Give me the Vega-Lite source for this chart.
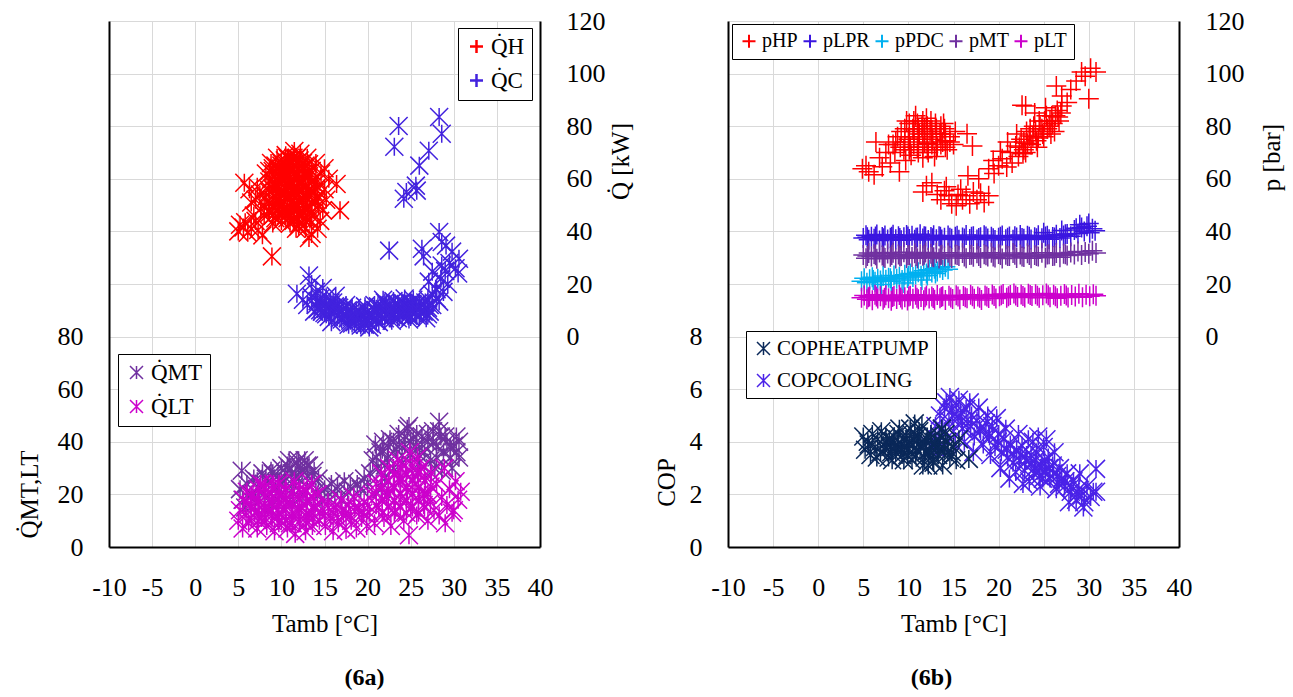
{
"$schema": "https://vega.github.io/schema/vega-lite/v6.json",
"bounds": "flush",
"spacing": 188,
"padding": {"left": 17, "top": 8, "right": 5, "bottom": 5},
"background": "white",
"config": {
  "font": "Liberation Serif",
  "view": {"stroke": null},
  "axis": {"labelFont": "Liberation Serif", "labelFontSize": 26, "labelColor": "#000", "titleFont": "Liberation Serif", "titleFontSize": 25, "titleFontWeight": "normal", "titleColor": "#000", "ticks": false, "domainColor": "#000", "domainWidth": 2, "gridColor": "#d9d9d9", "gridWidth": 1, "labelPadding": 26, "labelFlush": false, "labelOverlap": false},
  "legend": {"labelFont": "Liberation Serif", "labelFontSize": 23, "labelColor": "#000", "strokeColor": "#000", "fillColor": "#fff", "padding": 7, "labelOffset": 3, "rowPadding": 10, "symbolSize": 169, "symbolStrokeWidth": 2, "labelLimit": 300}
},
"datasets": {
"qa": [
{"s":"H","t":5.0,"v":40},{"s":"H","t":5.2,"v":42.5},{"s":"H","t":5.6,"v":41.5},{"s":"H","t":5.8,"v":43.5},{"s":"H","t":6.1,"v":39.5},{"s":"H","t":6.5,"v":41},{"s":"H","t":5.7,"v":58.5},{"s":"H","t":6.3,"v":56},{"s":"H","t":7.0,"v":44},{"s":"H","t":7.3,"v":40.5},{"s":"H","t":7.8,"v":38.5},{"s":"H","t":8.9,"v":30.5},{"s":"H","t":16.4,"v":58},{"s":"H","t":16.8,"v":48},{"s":"H","t":11.5,"v":70.6},{"s":"H","t":12.2,"v":69.5},{"s":"H","t":13.5,"v":39},{"s":"H","t":13.2,"v":37.5},{"s":"H","t":12.8,"v":41},{"s":"H","t":14.5,"v":44},{"s":"H","t":15.2,"v":52},{"s":"H","t":15.5,"v":60},{"s":"H","t":15,"v":64},{"s":"H","t":8.0,"v":50},{"s":"H","t":7.5,"v":54},{"s":"H","t":7.2,"v":57},{"s":"H","t":8.2,"v":62},{"s":"H","t":8.8,"v":66},{"s":"H","t":9.5,"v":68},{"s":"H","t":10.5,"v":69},{"s":"H","t":11,"v":67},{"s":"H","t":13,"v":68},{"s":"H","t":14,"v":66},{"s":"H","t":14.6,"v":62},{"s":"H","t":15,"v":56},{"s":"H","t":14.8,"v":48},{"s":"H","t":14.2,"v":41},{"s":"H","t":12,"v":42},{"s":"H","t":11,"v":43},{"s":"H","t":10,"v":44},{"s":"H","t":9,"v":46},{"s":"H","t":8.5,"v":48},
{"s":"H","t":9,"v":52},{"s":"H","t":9.5,"v":55},{"s":"H","t":10,"v":58},{"s":"H","t":10.5,"v":61},{"s":"H","t":11,"v":64},{"s":"H","t":11.5,"v":62},{"s":"H","t":12,"v":60},{"s":"H","t":12.5,"v":57},{"s":"H","t":13,"v":54},{"s":"H","t":13.5,"v":51},{"s":"H","t":13,"v":48},{"s":"H","t":12.5,"v":45},{"s":"H","t":12,"v":47},{"s":"H","t":11.5,"v":50},{"s":"H","t":11,"v":53},{"s":"H","t":10.5,"v":56},{"s":"H","t":10,"v":60},{"s":"H","t":9.5,"v":62},{"s":"H","t":9,"v":64},{"s":"H","t":10,"v":65},{"s":"H","t":11,"v":59},{"s":"H","t":12,"v":64},{"s":"H","t":12.5,"v":66},{"s":"H","t":13,"v":62},{"s":"H","t":13.5,"v":59},{"s":"H","t":14,"v":56},{"s":"H","t":14,"v":52},{"s":"H","t":13.5,"v":46},{"s":"H","t":12,"v":52},{"s":"H","t":11,"v":48},{"s":"H","t":10,"v":50},{"s":"H","t":9.5,"v":48},{"s":"H","t":10.5,"v":46},{"s":"H","t":11.5,"v":45},{"s":"H","t":12.5,"v":50},{"s":"H","t":13.5,"v":63},{"s":"H","t":14,"v":60},{"s":"H","t":11.8,"v":55},{"s":"H","t":12.3,"v":58},{"s":"H","t":10.8,"v":57.5},{"s":"H","t":9.8,"v":53},{"s":"H","t":9.2,"v":58},{"s":"H","t":8.5,"v":56},{"s":"H","t":8.2,"v":53},{"s":"H","t":8.8,"v":60},{"s":"H","t":10.2,"v":63},{"s":"H","t":11.3,"v":66},{"s":"H","t":12.7,"v":64},{"s":"H","t":13.8,"v":55},{"s":"H","t":12.9,"v":43.5},{"s":"H","t":11.7,"v":41},{"s":"H","t":13.3,"v":44.5},{"s":"H","t":14.3,"v":50},{"s":"H","t":12.6,"v":53.5},{"s":"H","t":11.2,"v":51.5},{"s":"H","t":10.3,"v":54},{"s":"H","t":9.7,"v":50.5},{"s":"H","t":9,"v":43},{"s":"H","t":8,"v":46},{"s":"H","t":7.6,"v":48.5},{"s":"H","t":6.8,"v":46},{"s":"H","t":6.5,"v":51},{"s":"H","t":7,"v":52},{"s":"H","t":11.8,"v":68},{"s":"H","t":10.8,"v":67.5},{"s":"H","t":12.5,"v":62},{"s":"H","t":13.2,"v":65.5},
{"s":"H","t":8.6,"v":47},{"s":"H","t":8.6,"v":51},{"s":"H","t":8.6,"v":55},{"s":"H","t":8.6,"v":59},{"s":"H","t":8.6,"v":63},{"s":"H","t":9.3,"v":45},{"s":"H","t":9.3,"v":49},{"s":"H","t":9.3,"v":53},{"s":"H","t":9.3,"v":57},{"s":"H","t":9.3,"v":61},{"s":"H","t":9.3,"v":65},{"s":"H","t":10.0,"v":46},{"s":"H","t":10.0,"v":50},{"s":"H","t":10.0,"v":54},{"s":"H","t":10.0,"v":58},{"s":"H","t":10.0,"v":62},{"s":"H","t":10.0,"v":66},{"s":"H","t":10.7,"v":45},{"s":"H","t":10.7,"v":49},{"s":"H","t":10.7,"v":53},{"s":"H","t":10.7,"v":57},{"s":"H","t":10.7,"v":61},{"s":"H","t":10.7,"v":65},{"s":"H","t":10.7,"v":68},{"s":"H","t":11.4,"v":44},{"s":"H","t":11.4,"v":48},{"s":"H","t":11.4,"v":52},{"s":"H","t":11.4,"v":56},{"s":"H","t":11.4,"v":60},{"s":"H","t":11.4,"v":64},{"s":"H","t":11.4,"v":68},{"s":"H","t":12.1,"v":43},{"s":"H","t":12.1,"v":47},{"s":"H","t":12.1,"v":51},{"s":"H","t":12.1,"v":55},{"s":"H","t":12.1,"v":59},{"s":"H","t":12.1,"v":63},{"s":"H","t":12.1,"v":67},{"s":"H","t":12.8,"v":45},{"s":"H","t":12.8,"v":49},{"s":"H","t":12.8,"v":53},{"s":"H","t":12.8,"v":57},{"s":"H","t":12.8,"v":61},{"s":"H","t":12.8,"v":65},{"s":"H","t":13.5,"v":47},{"s":"H","t":13.5,"v":51},{"s":"H","t":13.5,"v":55},{"s":"H","t":13.5,"v":59},{"s":"H","t":13.5,"v":63},{"s":"H","t":14.2,"v":53},{"s":"H","t":14.2,"v":57},
{"s":"H","t":9.0,"v":49},{"s":"H","t":9.0,"v":56},{"s":"H","t":9.0,"v":63},{"s":"H","t":9.7,"v":47},{"s":"H","t":9.7,"v":52},{"s":"H","t":9.7,"v":59},{"s":"H","t":9.7,"v":64},{"s":"H","t":10.4,"v":48},{"s":"H","t":10.4,"v":55},{"s":"H","t":10.4,"v":61},{"s":"H","t":10.4,"v":67},{"s":"H","t":11.1,"v":46},{"s":"H","t":11.1,"v":51},{"s":"H","t":11.1,"v":58},{"s":"H","t":11.1,"v":63},{"s":"H","t":11.1,"v":67},{"s":"H","t":11.8,"v":45},{"s":"H","t":11.8,"v":50},{"s":"H","t":11.8,"v":57},{"s":"H","t":11.8,"v":62},{"s":"H","t":11.8,"v":66},{"s":"H","t":12.5,"v":47},{"s":"H","t":12.5,"v":52},{"s":"H","t":12.5,"v":59},{"s":"H","t":12.5,"v":64},{"s":"H","t":13.2,"v":49},{"s":"H","t":13.2,"v":56},{"s":"H","t":13.2,"v":61},{"s":"H","t":13.9,"v":51},{"s":"H","t":13.9,"v":58},
{"s":"C","t":11.8,"v":16.3},{"s":"C","t":13.2,"v":23.2},{"s":"C","t":13.5,"v":20},{"s":"C","t":12.5,"v":14},{"s":"C","t":13,"v":12},{"s":"C","t":13.5,"v":15},{"s":"C","t":14,"v":17},{"s":"C","t":14,"v":12},{"s":"C","t":14.5,"v":10},{"s":"C","t":14.5,"v":14.5},{"s":"C","t":15,"v":12},{"s":"C","t":15,"v":9},{"s":"C","t":15.5,"v":11},{"s":"C","t":15.5,"v":7.5},{"s":"C","t":16,"v":10},{"s":"C","t":16,"v":13},{"s":"C","t":16.5,"v":8},{"s":"C","t":16.5,"v":11.5},{"s":"C","t":17,"v":6.5},{"s":"C","t":17,"v":9.5},{"s":"C","t":17.5,"v":8},{"s":"C","t":17.5,"v":12},{"s":"C","t":18,"v":6},{"s":"C","t":18,"v":9},{"s":"C","t":18.5,"v":5.5},{"s":"C","t":18.5,"v":8.5},{"s":"C","t":19,"v":7},{"s":"C","t":19,"v":10},{"s":"C","t":19.5,"v":5},{"s":"C","t":19.5,"v":8},{"s":"C","t":20,"v":6},{"s":"C","t":20,"v":9.5},{"s":"C","t":20.5,"v":4.5},{"s":"C","t":20.5,"v":7.5},{"s":"C","t":21,"v":6},{"s":"C","t":21,"v":10},{"s":"C","t":21.5,"v":8},{"s":"C","t":21.5,"v":11},{"s":"C","t":22,"v":7},{"s":"C","t":22,"v":10.5},{"s":"C","t":22,"v":13},{"s":"C","t":22.5,"v":9},{"s":"C","t":22.5,"v":12},{"s":"C","t":23,"v":8},{"s":"C","t":23,"v":11},{"s":"C","t":23,"v":13.5},{"s":"C","t":23.5,"v":7},{"s":"C","t":23.5,"v":10},{"s":"C","t":23.5,"v":12.5},{"s":"C","t":24,"v":8.5},{"s":"C","t":24,"v":11},{"s":"C","t":24,"v":13},{"s":"C","t":24.5,"v":9},{"s":"C","t":24.5,"v":12},{"s":"C","t":25,"v":7.5},{"s":"C","t":25,"v":10},{"s":"C","t":25,"v":12.5},{"s":"C","t":25.5,"v":9},{"s":"C","t":25.5,"v":11.5},{"s":"C","t":26,"v":8},{"s":"C","t":26,"v":10.5},{"s":"C","t":26,"v":13},{"s":"C","t":26.5,"v":9.5},{"s":"C","t":26.5,"v":12},{"s":"C","t":27,"v":8.5},{"s":"C","t":27,"v":11},{"s":"C","t":27,"v":14},{"s":"C","t":27.5,"v":16},{"s":"C","t":27.5,"v":12},{"s":"C","t":28,"v":18},{"s":"C","t":28,"v":14.5},{"s":"C","t":28.3,"v":13.3},{"s":"C","t":27.9,"v":18.2},{"s":"C","t":27.1,"v":20.9},{"s":"C","t":28.5,"v":22},{"s":"C","t":28.6,"v":27},{"s":"C","t":29,"v":25},{"s":"C","t":29.3,"v":20},{"s":"C","t":29.5,"v":28},{"s":"C","t":29.8,"v":32.3},{"s":"C","t":30.2,"v":26},{"s":"C","t":30.6,"v":29.6},{"s":"C","t":30.5,"v":24},{"s":"C","t":29.1,"v":34.6},{"s":"C","t":28.3,"v":39.8},{"s":"C","t":28.6,"v":36},{"s":"C","t":27.5,"v":24.7},{"s":"C","t":28.8,"v":17},{"s":"C","t":26.3,"v":33.4},{"s":"C","t":26.5,"v":30.5},{"s":"C","t":22.5,"v":32.7},
{"s":"C","t":23.6,"v":80.1},{"s":"C","t":23.1,"v":72.2},{"s":"C","t":28.3,"v":83.5},{"s":"C","t":28.6,"v":77.1},{"s":"C","t":27.1,"v":70.7},{"s":"C","t":26,"v":65},{"s":"C","t":25.6,"v":57.4},{"s":"C","t":24.5,"v":55},{"s":"C","t":24.2,"v":52.4},{"s":"C","t":25.7,"v":55.5},
{"s":"C","t":15.2,"v":15},{"s":"C","t":16.8,"v":7},{"s":"C","t":18.2,"v":11},{"s":"C","t":19.7,"v":11.5},{"s":"C","t":20.8,"v":12},{"s":"C","t":21.3,"v":5.5},{"s":"C","t":17.8,"v":4.5},{"s":"C","t":19.2,"v":4.2},{"s":"C","t":20.2,"v":3.5},{"s":"C","t":22.8,"v":6},{"s":"C","t":24.8,"v":6.5},{"s":"C","t":26.8,"v":7},{"s":"C","t":25.3,"v":14},{"s":"C","t":24.3,"v":14.5},{"s":"C","t":21.8,"v":14},{"s":"C","t":14.8,"v":18.5},{"s":"C","t":13.8,"v":9.5},{"s":"C","t":15.8,"v":5.5},{"s":"C","t":16.3,"v":15.5},
{"s":"C","t":14.2,"v":13.5},{"s":"C","t":14.2,"v":10.5},{"s":"C","t":14.7,"v":12.5},{"s":"C","t":14.7,"v":9.5},{"s":"C","t":15.2,"v":11},{"s":"C","t":15.2,"v":8.5},{"s":"C","t":15.7,"v":10.5},{"s":"C","t":15.7,"v":13},{"s":"C","t":16.2,"v":9},{"s":"C","t":16.2,"v":11.5},{"s":"C","t":16.7,"v":8.5},{"s":"C","t":16.7,"v":11},{"s":"C","t":17.2,"v":8},{"s":"C","t":17.2,"v":10.5},{"s":"C","t":17.7,"v":7},{"s":"C","t":17.7,"v":10},{"s":"C","t":18.2,"v":7.5},{"s":"C","t":18.2,"v":5},{"s":"C","t":18.7,"v":7},{"s":"C","t":18.7,"v":9.5},{"s":"C","t":19.2,"v":6.5},{"s":"C","t":19.2,"v":9},{"s":"C","t":19.7,"v":7},{"s":"C","t":19.7,"v":4.5},{"s":"C","t":20.2,"v":7.5},{"s":"C","t":20.2,"v":5},{"s":"C","t":20.7,"v":8},{"s":"C","t":20.7,"v":10.5},{"s":"C","t":21.2,"v":8.5},{"s":"C","t":21.2,"v":11.5},{"s":"C","t":21.7,"v":9.5},{"s":"C","t":21.7,"v":7},{"s":"C","t":22.2,"v":9},{"s":"C","t":22.2,"v":12},{"s":"C","t":22.7,"v":10},{"s":"C","t":22.7,"v":7.5},{"s":"C","t":23.2,"v":9.5},{"s":"C","t":23.2,"v":12.5},{"s":"C","t":23.7,"v":11},{"s":"C","t":23.7,"v":8.5},{"s":"C","t":24.2,"v":10},{"s":"C","t":24.2,"v":12.5},{"s":"C","t":24.7,"v":10.5},{"s":"C","t":24.7,"v":8},{"s":"C","t":25.2,"v":10},{"s":"C","t":25.2,"v":12.5},{"s":"C","t":25.7,"v":10.5},{"s":"C","t":25.7,"v":8},{"s":"C","t":26.2,"v":11},{"s":"C","t":26.2,"v":9},{"s":"C","t":26.7,"v":11},{"s":"C","t":26.7,"v":13},{"s":"C","t":27.2,"v":12},{"s":"C","t":27.2,"v":9.5}
],
"qb": [
{"s":"MT","t":5.4,"v":29},{"s":"MT","t":5.2,"v":22},{"s":"MT","t":5.5,"v":18},{"s":"MT","t":5.8,"v":15},{"s":"MT","t":6,"v":24},{"s":"MT","t":6.5,"v":20},{"s":"MT","t":6.8,"v":26},{"s":"MT","t":7,"v":17},{"s":"MT","t":7.5,"v":22},{"s":"MT","t":7.8,"v":28},{"s":"MT","t":8,"v":19},{"s":"MT","t":8.5,"v":25},{"s":"MT","t":8.8,"v":29},{"s":"MT","t":9,"v":16},{"s":"MT","t":9.3,"v":22},{"s":"MT","t":9.6,"v":27},{"s":"MT","t":10,"v":30},{"s":"MT","t":10,"v":20},{"s":"MT","t":10.4,"v":25},{"s":"MT","t":10.7,"v":31},{"s":"MT","t":11,"v":18},{"s":"MT","t":11.2,"v":28},{"s":"MT","t":11.5,"v":23},{"s":"MT","t":11.8,"v":32},{"s":"MT","t":12,"v":26},{"s":"MT","t":12.2,"v":30},{"s":"MT","t":12.5,"v":20},{"s":"MT","t":12.7,"v":33},{"s":"MT","t":13,"v":27},{"s":"MT","t":13.2,"v":31},{"s":"MT","t":13.5,"v":24},{"s":"MT","t":13.8,"v":29},{"s":"MT","t":14,"v":21},{"s":"MT","t":14.3,"v":26},{"s":"MT","t":14.6,"v":18},
{"s":"MT","t":15,"v":22},{"s":"MT","t":15.4,"v":19},{"s":"MT","t":15.8,"v":24},{"s":"MT","t":16.2,"v":20},{"s":"MT","t":16.5,"v":23},{"s":"MT","t":17,"v":18},{"s":"MT","t":17.3,"v":25},{"s":"MT","t":17.7,"v":21},{"s":"MT","t":18,"v":23},{"s":"MT","t":18.4,"v":19},{"s":"MT","t":18.8,"v":24},{"s":"MT","t":19.2,"v":22},{"s":"MT","t":19.6,"v":26},{"s":"MT","t":20,"v":23},
{"s":"MT","t":20.3,"v":28},{"s":"MT","t":20.6,"v":33},{"s":"MT","t":20.9,"v":39},{"s":"MT","t":21.2,"v":30},{"s":"MT","t":21.5,"v":36},{"s":"MT","t":21.8,"v":40},{"s":"MT","t":22,"v":26},{"s":"MT","t":22.3,"v":34},{"s":"MT","t":22.6,"v":41},{"s":"MT","t":23,"v":30},{"s":"MT","t":23.3,"v":37},{"s":"MT","t":23.6,"v":43},{"s":"MT","t":24,"v":32},{"s":"MT","t":24.3,"v":39},{"s":"MT","t":24.6,"v":45},{"s":"MT","t":24.8,"v":46},{"s":"MT","t":25,"v":35},{"s":"MT","t":25.3,"v":41},{"s":"MT","t":25.6,"v":38},{"s":"MT","t":26,"v":32},{"s":"MT","t":26.3,"v":42},{"s":"MT","t":26.6,"v":36},{"s":"MT","t":27,"v":40},{"s":"MT","t":27.3,"v":33},{"s":"MT","t":27.6,"v":44},{"s":"MT","t":28,"v":38},{"s":"MT","t":28.3,"v":47.6},{"s":"MT","t":28.5,"v":42},{"s":"MT","t":28.8,"v":36},{"s":"MT","t":29.2,"v":40},{"s":"MT","t":29.6,"v":34},{"s":"MT","t":30,"v":38.5},{"s":"MT","t":30.3,"v":36},{"s":"MT","t":30.6,"v":40},{"s":"MT","t":29.8,"v":30},{"s":"MT","t":28.6,"v":29},{"s":"MT","t":27.8,"v":30},{"s":"MT","t":25.8,"v":28},{"s":"MT","t":23.8,"v":25},{"s":"MT","t":21.6,"v":22},
{"s":"MT","t":8.2,"v":26},{"s":"MT","t":9,"v":28},{"s":"MT","t":9.8,"v":25},{"s":"MT","t":10.5,"v":28},{"s":"MT","t":11,"v":30},{"s":"MT","t":11.6,"v":27},{"s":"MT","t":12.4,"v":29},{"s":"MT","t":13,"v":31},{"s":"MT","t":13.6,"v":27},{"s":"MT","t":12,"v":33},{"s":"MT","t":10.9,"v":33},{"s":"MT","t":7.2,"v":25},{"s":"MT","t":21,"v":34},{"s":"MT","t":21.7,"v":37},{"s":"MT","t":22.4,"v":38},{"s":"MT","t":23,"v":40},{"s":"MT","t":23.7,"v":39},{"s":"MT","t":24.3,"v":42},{"s":"MT","t":25,"v":40},{"s":"MT","t":25.7,"v":43},{"s":"MT","t":26.3,"v":39},{"s":"MT","t":27,"v":43},{"s":"MT","t":27.6,"v":40},{"s":"MT","t":28.3,"v":44},{"s":"MT","t":29,"v":42},{"s":"MT","t":29.6,"v":38},{"s":"MT","t":30.3,"v":42},{"s":"MT","t":22,"v":31},{"s":"MT","t":24,"v":35},{"s":"MT","t":26,"v":35},{"s":"MT","t":28,"v":34},{"s":"MT","t":30.6,"v":34},
{"s":"LT","t":5,"v":10},{"s":"LT","t":5.2,"v":14},{"s":"LT","t":5.5,"v":7},{"s":"LT","t":5.6,"v":18},{"s":"LT","t":5.9,"v":12},{"s":"LT","t":6.2,"v":9},{"s":"LT","t":6.4,"v":16},{"s":"LT","t":6.7,"v":20},{"s":"LT","t":6.9,"v":13},{"s":"LT","t":7.2,"v":7},{"s":"LT","t":7.4,"v":17},{"s":"LT","t":7.7,"v":11},{"s":"LT","t":8,"v":22},{"s":"LT","t":8,"v":14},{"s":"LT","t":8.3,"v":8},{"s":"LT","t":8.6,"v":18},{"s":"LT","t":8.9,"v":12},{"s":"LT","t":9.1,"v":24},{"s":"LT","t":9.2,"v":6},{"s":"LT","t":9.5,"v":16},{"s":"LT","t":9.8,"v":20},{"s":"LT","t":10,"v":10},{"s":"LT","t":10.2,"v":14},{"s":"LT","t":10.5,"v":22},{"s":"LT","t":10.7,"v":7},{"s":"LT","t":11,"v":17},{"s":"LT","t":11.2,"v":12},{"s":"LT","t":11.5,"v":25},{"s":"LT","t":11.6,"v":5},{"s":"LT","t":11.9,"v":19},{"s":"LT","t":12.1,"v":9},{"s":"LT","t":12.3,"v":15},{"s":"LT","t":12.6,"v":22},{"s":"LT","t":12.8,"v":6},{"s":"LT","t":13,"v":18},{"s":"LT","t":13.2,"v":11},{"s":"LT","t":13.5,"v":24},{"s":"LT","t":13.6,"v":8},{"s":"LT","t":13.9,"v":15},{"s":"LT","t":14.2,"v":20},{"s":"LT","t":14.4,"v":10},{"s":"LT","t":7.6,"v":24},{"s":"LT","t":6,"v":21},{"s":"LT","t":10.3,"v":18},{"s":"LT","t":12,"v":13},{"s":"LT","t":11,"v":9},{"s":"LT","t":9.5,"v":11},{"s":"LT","t":8.5,"v":15},{"s":"LT","t":13.5,"v":13},
{"s":"LT","t":14.8,"v":14},{"s":"LT","t":15.1,"v":8},{"s":"LT","t":15.4,"v":17},{"s":"LT","t":15.7,"v":11},{"s":"LT","t":16,"v":6},{"s":"LT","t":16.3,"v":15},{"s":"LT","t":16.6,"v":9},{"s":"LT","t":16.9,"v":18},{"s":"LT","t":17.2,"v":12},{"s":"LT","t":17.5,"v":6.5},{"s":"LT","t":17.8,"v":16},{"s":"LT","t":18.1,"v":10},{"s":"LT","t":18.4,"v":19},{"s":"LT","t":18.7,"v":7},{"s":"LT","t":19,"v":14},{"s":"LT","t":19.3,"v":11},{"s":"LT","t":19.6,"v":17},{"s":"LT","t":19.9,"v":8},
{"s":"LT","t":20.2,"v":13},{"s":"LT","t":20.5,"v":20},{"s":"LT","t":20.8,"v":9},{"s":"LT","t":21,"v":24},{"s":"LT","t":21.3,"v":15},{"s":"LT","t":21.6,"v":28},{"s":"LT","t":21.9,"v":11},{"s":"LT","t":22.2,"v":19},{"s":"LT","t":22.5,"v":30},{"s":"LT","t":22.7,"v":8},{"s":"LT","t":23,"v":23},{"s":"LT","t":23.2,"v":14},{"s":"LT","t":23.5,"v":33},{"s":"LT","t":23.8,"v":18},{"s":"LT","t":24,"v":26},{"s":"LT","t":24.2,"v":10},{"s":"LT","t":24.4,"v":31},{"s":"LT","t":24.6,"v":21},{"s":"LT","t":24.8,"v":4.5},{"s":"LT","t":25,"v":15},{"s":"LT","t":25.2,"v":28},{"s":"LT","t":25.5,"v":24},{"s":"LT","t":25.7,"v":12},{"s":"LT","t":26,"v":20},{"s":"LT","t":26.2,"v":30},{"s":"LT","t":26.5,"v":16},{"s":"LT","t":26.7,"v":25},{"s":"LT","t":27,"v":10},{"s":"LT","t":27,"v":20},{"s":"LT","t":27.4,"v":28},{"s":"LT","t":27.7,"v":14},{"s":"LT","t":28,"v":24},{"s":"LT","t":28.3,"v":12},{"s":"LT","t":28.6,"v":19},{"s":"LT","t":28.9,"v":30},{"s":"LT","t":29.2,"v":16},{"s":"LT","t":29.5,"v":22},{"s":"LT","t":29.8,"v":13},{"s":"LT","t":30.2,"v":25},{"s":"LT","t":30.5,"v":18},{"s":"LT","t":30.8,"v":21},{"s":"LT","t":29,"v":9},{"s":"LT","t":30,"v":14},{"s":"LT","t":23.6,"v":26},{"s":"LT","t":22.4,"v":22},{"s":"LT","t":25.8,"v":34},{"s":"LT","t":24.9,"v":36},
{"s":"LT","t":6.5,"v":11},{"s":"LT","t":6.5,"v":15},{"s":"LT","t":6.5,"v":19},{"s":"LT","t":7.3,"v":10},{"s":"LT","t":7.3,"v":14},{"s":"LT","t":7.3,"v":18},{"s":"LT","t":7.3,"v":22},{"s":"LT","t":8.1,"v":11},{"s":"LT","t":8.1,"v":15},{"s":"LT","t":8.1,"v":19},{"s":"LT","t":8.1,"v":23},{"s":"LT","t":8.9,"v":10},{"s":"LT","t":8.9,"v":14},{"s":"LT","t":8.9,"v":18},{"s":"LT","t":8.9,"v":22},{"s":"LT","t":9.7,"v":9},{"s":"LT","t":9.7,"v":13},{"s":"LT","t":9.7,"v":17},{"s":"LT","t":9.7,"v":21},{"s":"LT","t":9.7,"v":24},{"s":"LT","t":10.5,"v":10},{"s":"LT","t":10.5,"v":14},{"s":"LT","t":10.5,"v":18},{"s":"LT","t":10.5,"v":22},{"s":"LT","t":11.3,"v":9},{"s":"LT","t":11.3,"v":13},{"s":"LT","t":11.3,"v":17},{"s":"LT","t":11.3,"v":21},{"s":"LT","t":12.1,"v":10},{"s":"LT","t":12.1,"v":14},{"s":"LT","t":12.1,"v":18},{"s":"LT","t":12.1,"v":22},{"s":"LT","t":12.9,"v":9},{"s":"LT","t":12.9,"v":13},{"s":"LT","t":12.9,"v":17},{"s":"LT","t":12.9,"v":21},{"s":"LT","t":13.7,"v":11},{"s":"LT","t":13.7,"v":15},{"s":"LT","t":13.7,"v":19},
{"s":"LT","t":15,"v":12},{"s":"LT","t":16,"v":13},{"s":"LT","t":17,"v":14},{"s":"LT","t":18,"v":12},{"s":"LT","t":19,"v":15},{"s":"LT","t":20,"v":16},{"s":"LT","t":15.5,"v":15},{"s":"LT","t":16.5,"v":11},{"s":"LT","t":17.5,"v":13},{"s":"LT","t":18.5,"v":15},{"s":"LT","t":19.5,"v":13},
{"s":"LT","t":21,"v":16},{"s":"LT","t":21,"v":21},{"s":"LT","t":21.7,"v":13},{"s":"LT","t":21.7,"v":18},{"s":"LT","t":21.7,"v":23},{"s":"LT","t":22.4,"v":15},{"s":"LT","t":22.4,"v":20},{"s":"LT","t":22.4,"v":25},{"s":"LT","t":23.1,"v":13},{"s":"LT","t":23.1,"v":18},{"s":"LT","t":23.1,"v":23},{"s":"LT","t":23.1,"v":28},{"s":"LT","t":23.8,"v":15},{"s":"LT","t":23.8,"v":20},{"s":"LT","t":23.8,"v":25},{"s":"LT","t":23.8,"v":30},{"s":"LT","t":24.5,"v":13},{"s":"LT","t":24.5,"v":18},{"s":"LT","t":24.5,"v":23},{"s":"LT","t":24.5,"v":28},{"s":"LT","t":25.2,"v":15},{"s":"LT","t":25.2,"v":20},{"s":"LT","t":25.2,"v":25},{"s":"LT","t":25.2,"v":31},{"s":"LT","t":25.9,"v":13},{"s":"LT","t":25.9,"v":18},{"s":"LT","t":25.9,"v":23},{"s":"LT","t":25.9,"v":28},{"s":"LT","t":26.6,"v":15},{"s":"LT","t":26.6,"v":20},{"s":"LT","t":26.6,"v":27},{"s":"LT","t":27.3,"v":17},{"s":"LT","t":27.3,"v":23}
],
"pb": [
{"s":"HP","t":4.9,"v":63.8},{"s":"HP","t":5.6,"v":62.7},{"s":"HP","t":5.3,"v":65},{"s":"HP","t":6.2,"v":61.5},{"s":"HP","t":7.1,"v":64.6},{"s":"HP","t":6.4,"v":74},{"s":"HP","t":6.8,"v":68},{"s":"HP","t":7.5,"v":70},{"s":"HP","t":8,"v":66},{"s":"HP","t":8.3,"v":73},{"s":"HP","t":9,"v":62.7},{"s":"HP","t":8.8,"v":76},{"s":"HP","t":9.2,"v":78},{"s":"HP","t":9.5,"v":71},{"s":"HP","t":9.8,"v":82},{"s":"HP","t":10,"v":75},{"s":"HP","t":10.3,"v":69},{"s":"HP","t":10.5,"v":79},{"s":"HP","t":10.8,"v":84},{"s":"HP","t":11,"v":72},{"s":"HP","t":11.2,"v":77},{"s":"HP","t":11.5,"v":80},{"s":"HP","t":11.8,"v":74},{"s":"HP","t":12,"v":83},{"s":"HP","t":12.2,"v":70},{"s":"HP","t":12.4,"v":78},{"s":"HP","t":12.7,"v":75},{"s":"HP","t":13,"v":81},{"s":"HP","t":13.2,"v":72},{"s":"HP","t":13.5,"v":77},{"s":"HP","t":13.8,"v":74},{"s":"HP","t":14,"v":79},{"s":"HP","t":14.3,"v":71},{"s":"HP","t":14.6,"v":76},{"s":"HP","t":15,"v":73},{"s":"HP","t":15.2,"v":78},{"s":"HP","t":16.5,"v":77.1},{"s":"HP","t":17.1,"v":72.5},{"s":"HP","t":10.2,"v":72},{"s":"HP","t":11.6,"v":68},{"s":"HP","t":12.9,"v":68.5},{"s":"HP","t":9.7,"v":67},{"s":"HP","t":8.5,"v":70},{"s":"HP","t":7.8,"v":73},{"s":"HP","t":11,"v":81},{"s":"HP","t":12.5,"v":82},{"s":"HP","t":13.6,"v":80},{"s":"HP","t":10.6,"v":76},{"s":"HP","t":11.8,"v":79},{"s":"HP","t":12.1,"v":73.5},{"s":"HP","t":14.1,"v":74.5},
{"s":"HP","t":9.6,"v":74},{"s":"HP","t":9.6,"v":79},{"s":"HP","t":10.1,"v":71},{"s":"HP","t":10.1,"v":76},{"s":"HP","t":10.1,"v":81},{"s":"HP","t":10.6,"v":73},{"s":"HP","t":10.6,"v":78},{"s":"HP","t":10.6,"v":82},{"s":"HP","t":11.1,"v":70},{"s":"HP","t":11.1,"v":75},{"s":"HP","t":11.1,"v":79},{"s":"HP","t":11.6,"v":72},{"s":"HP","t":11.6,"v":77},{"s":"HP","t":11.6,"v":82},{"s":"HP","t":12.1,"v":71},{"s":"HP","t":12.1,"v":76},{"s":"HP","t":12.1,"v":80},{"s":"HP","t":12.6,"v":73},{"s":"HP","t":12.6,"v":78},{"s":"HP","t":13.1,"v":71},{"s":"HP","t":13.1,"v":76},{"s":"HP","t":13.1,"v":79},{"s":"HP","t":13.6,"v":73},{"s":"HP","t":13.6,"v":77},{"s":"HP","t":14.1,"v":72},{"s":"HP","t":14.1,"v":77},{"s":"HP","t":14.6,"v":74},{"s":"HP","t":9.1,"v":72},{"s":"HP","t":8.6,"v":74},{"s":"HP","t":13.9,"v":81},
{"s":"HP","t":12,"v":57.4},{"s":"HP","t":11.6,"v":55},{"s":"HP","t":12.6,"v":58.5},{"s":"HP","t":13.2,"v":54},{"s":"HP","t":13.6,"v":52},{"s":"HP","t":14,"v":55.5},{"s":"HP","t":14.5,"v":53.6},{"s":"HP","t":14.8,"v":50.5},{"s":"HP","t":15.3,"v":49.8},{"s":"HP","t":15.5,"v":54},{"s":"HP","t":16,"v":52},{"s":"HP","t":16.4,"v":53.6},{"s":"HP","t":16.8,"v":50.5},{"s":"HP","t":17.2,"v":55},{"s":"HP","t":17.6,"v":52},{"s":"HP","t":18,"v":54.5},{"s":"HP","t":18.4,"v":51},{"s":"HP","t":18.9,"v":53.6},{"s":"HP","t":14.2,"v":57},{"s":"HP","t":15.8,"v":56},
{"s":"HP","t":16.6,"v":61.2},{"s":"HP","t":17.8,"v":60},{"s":"HP","t":18.9,"v":63.8},{"s":"HP","t":19.5,"v":62},{"s":"HP","t":20,"v":65},{"s":"HP","t":20.4,"v":67.6},{"s":"HP","t":20.9,"v":64.5},{"s":"HP","t":21.3,"v":70},{"s":"HP","t":21.5,"v":66},{"s":"HP","t":21.9,"v":72.5},{"s":"HP","t":22.2,"v":68.5},{"s":"HP","t":22.5,"v":75},{"s":"HP","t":22.8,"v":71},{"s":"HP","t":23.1,"v":78},{"s":"HP","t":23.4,"v":76.3},{"s":"HP","t":23.6,"v":73},{"s":"HP","t":23.9,"v":80},{"s":"HP","t":24.2,"v":74.5},{"s":"HP","t":24.5,"v":82},{"s":"HP","t":24.8,"v":79},{"s":"HP","t":25,"v":76},{"s":"HP","t":25.3,"v":84},{"s":"HP","t":25.6,"v":80},{"s":"HP","t":25.9,"v":83.9},{"s":"HP","t":26.2,"v":78},{"s":"HP","t":26.5,"v":86},{"s":"HP","t":27,"v":87.7},{"s":"HP","t":26.7,"v":82},{"s":"HP","t":23,"v":87.7},{"s":"HP","t":22.6,"v":88},{"s":"HP","t":30,"v":90.4},{"s":"HP","t":28.6,"v":97.2},{"s":"HP","t":29.2,"v":100.6},{"s":"HP","t":30.8,"v":100.6},{"s":"HP","t":27,"v":91.5},{"s":"HP","t":26.4,"v":95.3},{"s":"HP","t":28,"v":94},{"s":"HP","t":29.6,"v":99},{"s":"HP","t":30.2,"v":102},{"s":"HP","t":27.6,"v":89},{"s":"HP","t":25.2,"v":87},{"s":"HP","t":24,"v":85},{"s":"HP","t":22,"v":77},{"s":"HP","t":21,"v":74},{"s":"HP","t":20.2,"v":70.5},{"s":"HP","t":19.4,"v":67},
{"s":"HP","t":22.3,"v":72},{"s":"HP","t":22.8,"v":74},{"s":"HP","t":23.2,"v":73.5},{"s":"HP","t":23.5,"v":79},{"s":"HP","t":23.8,"v":76},{"s":"HP","t":24.1,"v":78},{"s":"HP","t":24.4,"v":75.5},{"s":"HP","t":24.6,"v":80},{"s":"HP","t":24.9,"v":77},{"s":"HP","t":25.1,"v":82},{"s":"HP","t":25.4,"v":79},{"s":"HP","t":25.7,"v":82},{"s":"HP","t":26,"v":81},{"s":"HP","t":26.3,"v":84},{"s":"HP","t":26.6,"v":83.5},{"s":"HP","t":25.8,"v":77},{"s":"HP","t":24.3,"v":72},{"s":"HP","t":23,"v":70},{"s":"HP","t":26.9,"v":85},{"s":"HP","t":22.7,"v":69.5},
{"s":"LPR","t":5.0,"v":37.5},{"s":"LPR","t":5.3,"v":38.5},{"s":"LPR","t":5.6,"v":36.8},{"s":"LPR","t":5.9,"v":38.0},{"s":"LPR","t":6.2,"v":37.2},{"s":"LPR","t":6.5,"v":38.8},{"s":"LPR","t":6.8,"v":36.5},{"s":"LPR","t":7.1,"v":37.9},{"s":"LPR","t":7.4,"v":38.4},{"s":"LPR","t":7.7,"v":36.9},{"s":"LPR","t":8.0,"v":37.6},{"s":"LPR","t":8.3,"v":38.7},{"s":"LPR","t":8.6,"v":37.0},{"s":"LPR","t":8.9,"v":38.2},{"s":"LPR","t":9.2,"v":36.6},{"s":"LPR","t":9.5,"v":37.8},{"s":"LPR","t":9.8,"v":38.6},{"s":"LPR","t":10.1,"v":37.1},{"s":"LPR","t":10.4,"v":38.3},{"s":"LPR","t":10.7,"v":36.8},{"s":"LPR","t":11.0,"v":37.7},{"s":"LPR","t":11.3,"v":38.9},{"s":"LPR","t":11.6,"v":37.3},{"s":"LPR","t":11.9,"v":38.1},{"s":"LPR","t":12.2,"v":36.7},{"s":"LPR","t":12.5,"v":37.9},{"s":"LPR","t":12.8,"v":38.5},{"s":"LPR","t":13.1,"v":37.0},{"s":"LPR","t":13.4,"v":38.2},{"s":"LPR","t":13.7,"v":36.9},{"s":"LPR","t":14.0,"v":37.6},{"s":"LPR","t":14.4,"v":38.4},{"s":"LPR","t":14.8,"v":37.2},{"s":"LPR","t":15.2,"v":38.0},{"s":"LPR","t":15.6,"v":36.8},{"s":"LPR","t":16.0,"v":37.7},{"s":"LPR","t":16.4,"v":38.6},{"s":"LPR","t":16.8,"v":37.1},{"s":"LPR","t":17.2,"v":38.2},{"s":"LPR","t":17.6,"v":36.9},{"s":"LPR","t":18.0,"v":37.8},{"s":"LPR","t":18.4,"v":38.5},{"s":"LPR","t":18.8,"v":37.3},{"s":"LPR","t":19.2,"v":38.0},{"s":"LPR","t":19.6,"v":36.7},{"s":"LPR","t":20.0,"v":37.6},{"s":"LPR","t":20.4,"v":38.4},{"s":"LPR","t":20.8,"v":37.0},{"s":"LPR","t":21.2,"v":38.1},{"s":"LPR","t":21.6,"v":36.8},{"s":"LPR","t":22.0,"v":37.7},{"s":"LPR","t":22.4,"v":38.6},{"s":"LPR","t":22.8,"v":37.2},{"s":"LPR","t":23.2,"v":38.3},{"s":"LPR","t":23.6,"v":36.9},{"s":"LPR","t":24.0,"v":37.8},{"s":"LPR","t":24.4,"v":38.5},{"s":"LPR","t":24.8,"v":37.4},{"s":"LPR","t":25.2,"v":38.1},{"s":"LPR","t":25.6,"v":37.0},{"s":"LPR","t":26.0,"v":37.9},{"s":"LPR","t":26.4,"v":38.7},{"s":"LPR","t":26.8,"v":37.5},{"s":"LPR","t":27.2,"v":38.4},{"s":"LPR","t":27.6,"v":39.0},{"s":"LPR","t":28.0,"v":38.2},{"s":"LPR","t":28.4,"v":40.5},{"s":"LPR","t":28.8,"v":39.2},{"s":"LPR","t":29.2,"v":41.5},{"s":"LPR","t":29.5,"v":40.0},{"s":"LPR","t":29.8,"v":42.0},{"s":"LPR","t":30.1,"v":39.5},{"s":"LPR","t":30.4,"v":41.0},{"s":"LPR","t":30.7,"v":40.2},{"s":"LPR","t":29.0,"v":42.5},{"s":"LPR","t":28.6,"v":41.2},{"s":"LPR","t":30.0,"v":43.0},{"s":"LPR","t":25.0,"v":39.5},{"s":"LPR","t":27.0,"v":40.3},
{"s":"LPR","t":5.45,"v":37.8},{"s":"LPR","t":6.35,"v":38.1},{"s":"LPR","t":7.25,"v":37.4},{"s":"LPR","t":8.15,"v":38.0},{"s":"LPR","t":9.05,"v":37.5},{"s":"LPR","t":9.95,"v":38.1},{"s":"LPR","t":10.85,"v":37.6},{"s":"LPR","t":11.75,"v":38.2},{"s":"LPR","t":12.65,"v":37.4},{"s":"LPR","t":13.55,"v":38.0},{"s":"LPR","t":14.6,"v":37.6},{"s":"LPR","t":15.4,"v":38.3},{"s":"LPR","t":16.2,"v":37.3},{"s":"LPR","t":17.0,"v":38.0},{"s":"LPR","t":17.8,"v":37.5},{"s":"LPR","t":18.6,"v":38.1},{"s":"LPR","t":19.4,"v":37.4},{"s":"LPR","t":20.2,"v":38.0},{"s":"LPR","t":21.0,"v":37.6},{"s":"LPR","t":21.8,"v":38.2},{"s":"LPR","t":22.6,"v":37.5},{"s":"LPR","t":23.4,"v":38.0},{"s":"LPR","t":24.2,"v":37.4},{"s":"LPR","t":25.4,"v":38.3},{"s":"LPR","t":26.2,"v":37.7},{"s":"LPR","t":27.4,"v":38.9},
{"s":"PDC","t":4.8,"v":21.0},{"s":"PDC","t":5.1,"v":22.2},{"s":"PDC","t":5.4,"v":20.5},{"s":"PDC","t":5.7,"v":21.8},{"s":"PDC","t":6.0,"v":22.6},{"s":"PDC","t":6.3,"v":20.9},{"s":"PDC","t":6.6,"v":22.0},{"s":"PDC","t":6.9,"v":21.3},{"s":"PDC","t":7.2,"v":23.0},{"s":"PDC","t":7.5,"v":21.6},{"s":"PDC","t":7.8,"v":22.4},{"s":"PDC","t":8.1,"v":21.0},{"s":"PDC","t":8.4,"v":23.2},{"s":"PDC","t":8.7,"v":22.0},{"s":"PDC","t":9.0,"v":22.8},{"s":"PDC","t":9.3,"v":21.5},{"s":"PDC","t":9.6,"v":23.5},{"s":"PDC","t":9.9,"v":22.3},{"s":"PDC","t":10.2,"v":24.0},{"s":"PDC","t":10.5,"v":22.7},{"s":"PDC","t":10.8,"v":23.6},{"s":"PDC","t":11.1,"v":24.5},{"s":"PDC","t":11.4,"v":23.1},{"s":"PDC","t":11.7,"v":25.0},{"s":"PDC","t":12.0,"v":24.0},{"s":"PDC","t":12.3,"v":25.4},{"s":"PDC","t":12.6,"v":24.4},{"s":"PDC","t":12.9,"v":25.8},{"s":"PDC","t":13.2,"v":24.8},{"s":"PDC","t":13.5,"v":26.2},{"s":"PDC","t":13.8,"v":25.3},{"s":"PDC","t":14.1,"v":26.6},{"s":"PDC","t":14.4,"v":25.6},{"s":"PDC","t":7.0,"v":19.8},{"s":"PDC","t":9.5,"v":20.4},{"s":"PDC","t":11.5,"v":21.5},{"s":"PDC","t":6.1,"v":21.5},{"s":"PDC","t":8.0,"v":22.2},{"s":"PDC","t":10.0,"v":23.0},{"s":"PDC","t":12.1,"v":23.2},{"s":"PDC","t":13.0,"v":24.0},
{"s":"MT","t":5.0,"v":31.0},{"s":"MT","t":5.3,"v":29.8},{"s":"MT","t":5.6,"v":31.8},{"s":"MT","t":5.9,"v":30.5},{"s":"MT","t":6.2,"v":31.4},{"s":"MT","t":6.5,"v":29.6},{"s":"MT","t":6.8,"v":32.0},{"s":"MT","t":7.1,"v":30.8},{"s":"MT","t":7.4,"v":29.9},{"s":"MT","t":7.7,"v":31.6},{"s":"MT","t":8.0,"v":30.4},{"s":"MT","t":8.3,"v":31.9},{"s":"MT","t":8.6,"v":29.7},{"s":"MT","t":8.9,"v":31.2},{"s":"MT","t":9.2,"v":30.6},{"s":"MT","t":9.5,"v":32.1},{"s":"MT","t":9.8,"v":29.9},{"s":"MT","t":10.1,"v":31.0},{"s":"MT","t":10.4,"v":30.3},{"s":"MT","t":10.7,"v":31.7},{"s":"MT","t":11.0,"v":29.8},{"s":"MT","t":11.3,"v":31.3},{"s":"MT","t":11.6,"v":30.7},{"s":"MT","t":11.9,"v":32.0},{"s":"MT","t":12.2,"v":30.0},{"s":"MT","t":12.5,"v":31.5},{"s":"MT","t":12.8,"v":30.2},{"s":"MT","t":13.1,"v":31.8},{"s":"MT","t":13.4,"v":29.7},{"s":"MT","t":13.7,"v":31.1},{"s":"MT","t":14.0,"v":30.5},{"s":"MT","t":14.4,"v":31.9},{"s":"MT","t":14.8,"v":29.9},{"s":"MT","t":15.2,"v":31.2},{"s":"MT","t":15.6,"v":30.6},{"s":"MT","t":16.0,"v":31.8},{"s":"MT","t":16.4,"v":29.8},{"s":"MT","t":16.8,"v":31.0},{"s":"MT","t":17.2,"v":30.4},{"s":"MT","t":17.6,"v":31.7},{"s":"MT","t":18.0,"v":29.9},{"s":"MT","t":18.4,"v":31.3},{"s":"MT","t":18.8,"v":30.5},{"s":"MT","t":19.2,"v":31.9},{"s":"MT","t":19.6,"v":30.1},{"s":"MT","t":20.0,"v":31.4},{"s":"MT","t":20.4,"v":29.7},{"s":"MT","t":20.8,"v":31.1},{"s":"MT","t":21.2,"v":30.6},{"s":"MT","t":21.6,"v":31.8},{"s":"MT","t":22.0,"v":29.9},{"s":"MT","t":22.4,"v":31.2},{"s":"MT","t":22.8,"v":30.3},{"s":"MT","t":23.2,"v":31.7},{"s":"MT","t":23.6,"v":29.8},{"s":"MT","t":24.0,"v":31.0},{"s":"MT","t":24.4,"v":30.5},{"s":"MT","t":24.8,"v":31.9},{"s":"MT","t":25.2,"v":30.0},{"s":"MT","t":25.6,"v":31.3},{"s":"MT","t":26.0,"v":30.6},{"s":"MT","t":26.4,"v":31.8},{"s":"MT","t":26.8,"v":30.2},{"s":"MT","t":27.2,"v":31.5},{"s":"MT","t":27.6,"v":30.8},{"s":"MT","t":28.0,"v":32.0},{"s":"MT","t":28.4,"v":31.2},{"s":"MT","t":28.8,"v":32.4},{"s":"MT","t":29.2,"v":31.0},{"s":"MT","t":29.6,"v":32.2},{"s":"MT","t":30.0,"v":31.5},{"s":"MT","t":30.4,"v":32.6},{"s":"MT","t":30.8,"v":31.8},
{"s":"MT","t":5.45,"v":30.6},{"s":"MT","t":6.35,"v":30.9},{"s":"MT","t":7.25,"v":30.4},{"s":"MT","t":8.15,"v":31.0},{"s":"MT","t":9.05,"v":30.5},{"s":"MT","t":9.95,"v":30.9},{"s":"MT","t":10.85,"v":30.6},{"s":"MT","t":11.75,"v":31.1},{"s":"MT","t":12.65,"v":30.4},{"s":"MT","t":13.55,"v":30.9},{"s":"MT","t":14.6,"v":30.6},{"s":"MT","t":15.4,"v":31.0},{"s":"MT","t":16.2,"v":30.5},{"s":"MT","t":17.0,"v":31.1},{"s":"MT","t":17.8,"v":30.6},{"s":"MT","t":18.6,"v":30.9},{"s":"MT","t":19.4,"v":30.5},{"s":"MT","t":20.2,"v":31.0},{"s":"MT","t":21.0,"v":30.6},{"s":"MT","t":21.8,"v":31.1},{"s":"MT","t":22.6,"v":30.5},{"s":"MT","t":23.4,"v":31.0},{"s":"MT","t":24.2,"v":30.6},{"s":"MT","t":25.4,"v":31.2},{"s":"MT","t":26.2,"v":30.7},{"s":"MT","t":27.4,"v":31.3},
{"s":"LT","t":4.8,"v":14.8},{"s":"LT","t":5.1,"v":15.6},{"s":"LT","t":5.4,"v":14.2},{"s":"LT","t":5.7,"v":15.2},{"s":"LT","t":6.0,"v":13.8},{"s":"LT","t":6.3,"v":15.9},{"s":"LT","t":6.6,"v":14.5},{"s":"LT","t":6.9,"v":15.3},{"s":"LT","t":7.2,"v":14.0},{"s":"LT","t":7.5,"v":15.7},{"s":"LT","t":7.8,"v":14.6},{"s":"LT","t":8.1,"v":13.6},{"s":"LT","t":8.4,"v":15.4},{"s":"LT","t":8.7,"v":14.3},{"s":"LT","t":9.0,"v":15.8},{"s":"LT","t":9.3,"v":14.1},{"s":"LT","t":9.6,"v":15.0},{"s":"LT","t":9.9,"v":13.7},{"s":"LT","t":10.2,"v":15.5},{"s":"LT","t":10.5,"v":14.4},{"s":"LT","t":10.8,"v":15.9},{"s":"LT","t":11.1,"v":14.2},{"s":"LT","t":11.4,"v":15.1},{"s":"LT","t":11.7,"v":13.8},{"s":"LT","t":12.0,"v":15.6},{"s":"LT","t":12.3,"v":14.5},{"s":"LT","t":12.6,"v":15.2},{"s":"LT","t":12.9,"v":14.0},{"s":"LT","t":13.2,"v":15.8},{"s":"LT","t":13.5,"v":14.6},{"s":"LT","t":13.8,"v":15.3},{"s":"LT","t":14.1,"v":13.9},{"s":"LT","t":14.5,"v":15.5},{"s":"LT","t":14.9,"v":14.3},{"s":"LT","t":15.3,"v":15.7},{"s":"LT","t":15.7,"v":14.1},{"s":"LT","t":16.1,"v":15.4},{"s":"LT","t":16.5,"v":14.6},{"s":"LT","t":16.9,"v":15.9},{"s":"LT","t":17.3,"v":14.4},{"s":"LT","t":17.7,"v":15.2},{"s":"LT","t":18.1,"v":13.9},{"s":"LT","t":18.5,"v":15.6},{"s":"LT","t":18.9,"v":14.7},{"s":"LT","t":19.3,"v":16.0},{"s":"LT","t":19.7,"v":14.5},{"s":"LT","t":20.1,"v":15.3},{"s":"LT","t":20.5,"v":16.2},{"s":"LT","t":20.9,"v":14.8},{"s":"LT","t":21.3,"v":15.8},{"s":"LT","t":21.7,"v":16.4},{"s":"LT","t":22.1,"v":15.1},{"s":"LT","t":22.5,"v":16.0},{"s":"LT","t":22.9,"v":14.9},{"s":"LT","t":23.3,"v":16.3},{"s":"LT","t":23.7,"v":15.4},{"s":"LT","t":24.1,"v":16.1},{"s":"LT","t":24.5,"v":14.8},{"s":"LT","t":24.9,"v":15.7},{"s":"LT","t":25.3,"v":16.4},{"s":"LT","t":25.7,"v":15.0},{"s":"LT","t":26.1,"v":15.9},{"s":"LT","t":26.5,"v":14.6},{"s":"LT","t":26.9,"v":15.5},{"s":"LT","t":27.3,"v":16.2},{"s":"LT","t":27.7,"v":14.9},{"s":"LT","t":28.1,"v":15.8},{"s":"LT","t":28.5,"v":15.2},{"s":"LT","t":28.9,"v":16.3},{"s":"LT","t":29.3,"v":15.0},{"s":"LT","t":29.7,"v":15.9},{"s":"LT","t":30.1,"v":15.3},{"s":"LT","t":30.5,"v":16.1},{"s":"LT","t":30.8,"v":15.5},
{"s":"LT","t":5.55,"v":15.0},{"s":"LT","t":6.45,"v":15.2},{"s":"LT","t":7.35,"v":14.8},{"s":"LT","t":8.25,"v":15.1},{"s":"LT","t":9.15,"v":14.9},{"s":"LT","t":10.05,"v":15.2},{"s":"LT","t":10.95,"v":14.8},{"s":"LT","t":11.85,"v":15.0},{"s":"LT","t":12.75,"v":14.7},{"s":"LT","t":13.65,"v":15.1},{"s":"LT","t":14.7,"v":14.9},{"s":"LT","t":15.5,"v":15.2},{"s":"LT","t":16.3,"v":15.0},{"s":"LT","t":17.1,"v":15.3},{"s":"LT","t":17.9,"v":14.8},{"s":"LT","t":18.7,"v":15.2},{"s":"LT","t":19.5,"v":15.4},{"s":"LT","t":20.3,"v":15.7},{"s":"LT","t":21.1,"v":15.3},{"s":"LT","t":21.9,"v":15.6},{"s":"LT","t":22.7,"v":15.4},{"s":"LT","t":23.5,"v":15.8},{"s":"LT","t":24.3,"v":15.5},{"s":"LT","t":25.5,"v":15.7},{"s":"LT","t":26.3,"v":15.3},{"s":"LT","t":27.5,"v":15.6}
],
"cb": [
{"s":"CL","t":12,"v":4.0},{"s":"CL","t":12.5,"v":4.3},{"s":"CL","t":12.8,"v":3.8},{"s":"CL","t":13,"v":4.6},{"s":"CL","t":13.3,"v":4.1},{"s":"CL","t":13.5,"v":5.0},{"s":"CL","t":13.8,"v":4.5},{"s":"CL","t":14,"v":5.3},{"s":"CL","t":14.2,"v":5.5},{"s":"CL","t":14.5,"v":4.8},{"s":"CL","t":14.8,"v":5.2},{"s":"CL","t":15,"v":4.4},{"s":"CL","t":15.3,"v":5.4},{"s":"CL","t":15.5,"v":4.9},{"s":"CL","t":15.8,"v":5.1},{"s":"CL","t":16,"v":4.5},{"s":"CL","t":16.4,"v":5.25},{"s":"CL","t":16.6,"v":4.7},{"s":"CL","t":17,"v":5.0},{"s":"CL","t":17.3,"v":4.2},{"s":"CL","t":17.6,"v":4.8},{"s":"CL","t":18,"v":4.4},{"s":"CL","t":18.3,"v":3.9},{"s":"CL","t":18.6,"v":4.7},{"s":"CL","t":19,"v":4.2},{"s":"CL","t":19.3,"v":4.6},{"s":"CL","t":19.6,"v":3.8},{"s":"CL","t":20,"v":4.3},{"s":"CL","t":20.3,"v":3.6},{"s":"CL","t":20.6,"v":4.1},{"s":"CL","t":21,"v":3.4},{"s":"CL","t":21.3,"v":3.9},{"s":"CL","t":21.6,"v":3.2},{"s":"CL","t":21.9,"v":2.85},{"s":"CL","t":22,"v":3.7},{"s":"CL","t":22.3,"v":3.3},{"s":"CL","t":22.6,"v":3.85},{"s":"CL","t":22.9,"v":2.9},{"s":"CL","t":23.1,"v":3.5},{"s":"CL","t":23.4,"v":2.5},{"s":"CL","t":23.6,"v":3.2},{"s":"CL","t":23.8,"v":4.0},{"s":"CL","t":24,"v":3.0},{"s":"CL","t":24.2,"v":3.6},{"s":"CL","t":24.5,"v":2.7},{"s":"CL","t":24.8,"v":3.2},{"s":"CL","t":25,"v":3.8},{"s":"CL","t":25.2,"v":2.9},{"s":"CL","t":25.5,"v":3.4},{"s":"CL","t":25.7,"v":2.6},{"s":"CL","t":26,"v":3.1},{"s":"CL","t":26.2,"v":3.6},{"s":"CL","t":26.5,"v":2.7},{"s":"CL","t":26.8,"v":3.0},{"s":"CL","t":27,"v":2.6},{"s":"CL","t":27.3,"v":2.3},{"s":"CL","t":27.6,"v":2.8},{"s":"CL","t":28,"v":2.1},{"s":"CL","t":28.3,"v":2.5},{"s":"CL","t":28.6,"v":1.8},{"s":"CL","t":28.9,"v":2.2},{"s":"CL","t":29.2,"v":1.95},{"s":"CL","t":29.5,"v":1.7},{"s":"CL","t":29.8,"v":2.3},{"s":"CL","t":30.2,"v":1.9},{"s":"CL","t":30.5,"v":2.1},{"s":"CL","t":30.8,"v":2.97},{"s":"CL","t":30.8,"v":2.1},{"s":"CL","t":29,"v":2.8},{"s":"CL","t":25.3,"v":4.1},{"s":"CL","t":24.4,"v":4.2},{"s":"CL","t":23.3,"v":4.1},{"s":"CL","t":22.2,"v":4.3},{"s":"CL","t":20.8,"v":4.5},{"s":"CL","t":19.8,"v":4.9},{"s":"CL","t":18.8,"v":5.0},{"s":"CL","t":17.8,"v":5.3},{"s":"CL","t":16.8,"v":5.5},{"s":"CL","t":15.6,"v":5.6},{"s":"CL","t":14.6,"v":5.7},{"s":"CL","t":13.9,"v":3.8},{"s":"CL","t":15.2,"v":3.9},{"s":"CL","t":16.2,"v":4.0},{"s":"CL","t":17.2,"v":3.6},{"s":"CL","t":19.1,"v":3.5},{"s":"CL","t":20.2,"v":3.0},{"s":"CL","t":21.2,"v":2.6},{"s":"CL","t":22.7,"v":2.4},{"s":"CL","t":24.6,"v":2.3},{"s":"CL","t":26.4,"v":2.2},{"s":"CL","t":27.8,"v":1.7},{"s":"CL","t":29.4,"v":1.5},
{"s":"CL","t":14.9,"v":5.0},{"s":"CL","t":15.9,"v":4.8},{"s":"CL","t":16.9,"v":4.6},{"s":"CL","t":17.9,"v":4.5},{"s":"CL","t":18.9,"v":4.3},{"s":"CL","t":19.9,"v":4.0},{"s":"CL","t":20.9,"v":3.7},{"s":"CL","t":21.7,"v":3.5},{"s":"CL","t":22.4,"v":3.5},{"s":"CL","t":23,"v":3.3},{"s":"CL","t":23.6,"v":3.5},{"s":"CL","t":24.1,"v":3.3},{"s":"CL","t":24.7,"v":3.0},{"s":"CL","t":25.1,"v":3.3},{"s":"CL","t":25.6,"v":3.0},{"s":"CL","t":26.1,"v":2.8},{"s":"CL","t":26.7,"v":2.4},{"s":"CL","t":27.4,"v":2.5},{"s":"CL","t":28.1,"v":2.3},{"s":"CL","t":28.7,"v":2.0},{"s":"CL","t":23.9,"v":2.8},{"s":"CL","t":24.9,"v":2.6},
{"s":"HP","t":5,"v":4.2},{"s":"HP","t":5.2,"v":3.7},{"s":"HP","t":5.5,"v":4.0},{"s":"HP","t":5.8,"v":3.5},{"s":"HP","t":6,"v":4.3},{"s":"HP","t":6.3,"v":3.8},{"s":"HP","t":6.6,"v":4.1},{"s":"HP","t":6.9,"v":3.6},{"s":"HP","t":7.2,"v":3.9},{"s":"HP","t":7.5,"v":4.2},{"s":"HP","t":7.8,"v":3.4},{"s":"HP","t":8,"v":3.8},{"s":"HP","t":8.3,"v":4.0},{"s":"HP","t":8.6,"v":3.6},{"s":"HP","t":8.9,"v":4.3},{"s":"HP","t":9.2,"v":3.9},{"s":"HP","t":9.5,"v":3.3},{"s":"HP","t":9.8,"v":4.1},{"s":"HP","t":10,"v":3.7},{"s":"HP","t":10.2,"v":4.5},{"s":"HP","t":10.5,"v":3.9},{"s":"HP","t":10.8,"v":3.5},{"s":"HP","t":11,"v":4.2},{"s":"HP","t":11.3,"v":3.8},{"s":"HP","t":11.5,"v":4.6},{"s":"HP","t":11.8,"v":3.4},{"s":"HP","t":12,"v":4.0},{"s":"HP","t":12.3,"v":3.7},{"s":"HP","t":12.5,"v":4.3},{"s":"HP","t":12.8,"v":3.2},{"s":"HP","t":13,"v":3.9},{"s":"HP","t":13.3,"v":3.5},{"s":"HP","t":13.5,"v":4.2},{"s":"HP","t":13.8,"v":3.1},{"s":"HP","t":14,"v":3.7},{"s":"HP","t":14.3,"v":4.0},{"s":"HP","t":14.6,"v":3.4},{"s":"HP","t":15,"v":3.8},{"s":"HP","t":15.3,"v":3.3},{"s":"HP","t":15.6,"v":4.1},{"s":"HP","t":16.7,"v":3.35},{"s":"HP","t":7,"v":4.4},{"s":"HP","t":9,"v":4.5},{"s":"HP","t":10.7,"v":4.7},{"s":"HP","t":12.2,"v":3.1},{"s":"HP","t":11.6,"v":3.1},{"s":"HP","t":8.2,"v":3.3},{"s":"HP","t":6.5,"v":3.4},{"s":"HP","t":13.7,"v":4.5},{"s":"HP","t":10.4,"v":3.3},{"s":"HP","t":9.6,"v":3.8},{"s":"HP","t":11.1,"v":3.9},{"s":"HP","t":12.6,"v":3.9},{"s":"HP","t":8.8,"v":3.9},{"s":"HP","t":7.4,"v":3.7},{"s":"HP","t":13.2,"v":3.8},{"s":"HP","t":14.8,"v":3.6},{"s":"HP","t":5.6,"v":3.9},
{"s":"HP","t":7.6,"v":4.0},{"s":"HP","t":8.1,"v":3.6},{"s":"HP","t":8.4,"v":4.2},{"s":"HP","t":9.1,"v":3.7},{"s":"HP","t":9.4,"v":4.1},{"s":"HP","t":9.9,"v":3.5},{"s":"HP","t":10.1,"v":3.9},{"s":"HP","t":10.6,"v":4.1},{"s":"HP","t":10.9,"v":3.7},{"s":"HP","t":11.4,"v":4.0},{"s":"HP","t":11.9,"v":3.6},{"s":"HP","t":12.1,"v":4.2},{"s":"HP","t":12.4,"v":3.5},{"s":"HP","t":12.9,"v":4.0},{"s":"HP","t":13.4,"v":3.7},{"s":"HP","t":13.9,"v":3.9},{"s":"HP","t":14.4,"v":3.6},{"s":"HP","t":11.2,"v":4.4},{"s":"HP","t":10.3,"v":4.3},{"s":"HP","t":12.7,"v":3.3},{"s":"HP","t":9.3,"v":3.5},{"s":"HP","t":8.5,"v":3.8},{"s":"HP","t":14.1,"v":4.3},{"s":"HP","t":11.7,"v":3.8},{"s":"HP","t":7.9,"v":4.1}
]
},
"hconcat": [
{
  "width": 431, "height": 526,
  "title": {"text": "(6a)", "orient": "bottom", "frame": "group", "font": "Liberation Serif", "fontSize": 24, "fontWeight": "bold", "color": "#000", "dx": 40, "offset": 30},
  "resolve": {"scale": {"y": "independent", "color": "independent"}, "legend": {"color": "independent"}},
  "layer": [
    {
      "data": {"name": "qb"},
      "mark": {"type": "point", "shape": "M-1,-1L1,1M-1,1L1,-1M0,-1L0,1", "filled": false, "strokeWidth": 1.5, "size": 324, "opacity": 1},
      "encoding": {
        "x": {"field": "t", "type": "quantitative", "scale": {"domain": [-10, 40], "nice": false, "zero": false},
              "axis": {"values": [-10,-5,0,5,10,15,20,25,30,35,40], "labelExpr": "toString(datum.value)", "labelFont": "Liberation Serif", "labelPadding": 27, "title": "Tamb [°C]", "titleFont": "Liberation Serif", "titleY": 76, "titleBaseline": "middle", "grid": true, "gridColor": {"condition": {"test": "datum.value == -10 || datum.value == 40", "value": "transparent"}, "value": "#d9d9d9"}}},
        "y": {"field": "v", "type": "quantitative", "scale": {"domain": [0, 200], "nice": false, "zero": false},
              "axis": {"orient": "left", "values": [0,20,40,60,80], "labelFont": "Liberation Serif", "grid": true, "title": "Q\u0307MT,LT", "titleFont": "Liberation Serif", "titleX": -80, "titleY": 473, "titleAngle": 270, "titleAlign": "center", "titleBaseline": "middle"}},
        "color": {"field": "s", "type": "nominal", "scale": {"domain": ["MT","LT"], "range": ["#7030A0","#CC00CC"]},
                  "legend": {"title": null, "orient": "none", "legendX": 9, "legendY": 333, "labelExpr": "datum.label == 'MT' ? 'Q\u0307MT' : 'Q\u0307LT'", "symbolType": "M-1,-1L1,1M-1,1L1,-1M0,-1L0,1", "symbolStrokeWidth": 1.5}}
      }
    },
    {
      "data": {"name": "qa"},
      "mark": {"type": "point", "shape": "M-1,-1L1,1M-1,1L1,-1M0,-1L0,1", "filled": false, "strokeWidth": 1.5, "size": 324, "opacity": 1},
      "encoding": {
        "x": {"field": "t", "type": "quantitative", "scale": {"domain": [-10, 40], "nice": false, "zero": false},
              "axis": {"values": [-10,-5,0,5,10,15,20,25,30,35,40], "labelExpr": "toString(datum.value)", "labelFont": "Liberation Serif", "labelPadding": 27, "title": "Tamb [°C]", "titleFont": "Liberation Serif", "titleY": 76, "titleBaseline": "middle", "grid": true, "gridColor": {"condition": {"test": "datum.value == -10 || datum.value == 40", "value": "transparent"}, "value": "#d9d9d9"}}},
        "y": {"field": "v", "type": "quantitative", "scale": {"domain": [-80, 120], "nice": false, "zero": false},
              "axis": {"orient": "right", "values": [0,20,40,60,80,100,120], "labelFont": "Liberation Serif", "grid": true, "title": "Q\u0307 [kW]", "titleFont": "Liberation Serif", "titleX": 80, "titleY": 140, "titleAngle": 270, "titleAlign": "center", "titleBaseline": "middle"}},
        "color": {"field": "s", "type": "nominal", "scale": {"domain": ["H","C"], "range": ["#FF0000","#4222DE"]},
                  "legend": {"title": null, "orient": "none", "legendX": 349, "legendY": 7, "labelExpr": "datum.label == 'H' ? 'Q\u0307H' : 'Q\u0307C'", "symbolType": "M-1,0L1,0M0,-1L0,1", "symbolStrokeWidth": 2.5}}
      }
    }
  ]
},
{
  "width": 451, "height": 526,
  "title": {"text": "(6b)", "orient": "bottom", "frame": "group", "font": "Liberation Serif", "fontSize": 24, "fontWeight": "bold", "color": "#000", "dx": -22, "offset": 30},
  "resolve": {"scale": {"y": "independent", "color": "independent"}, "legend": {"color": "independent"}},
  "layer": [
    {
      "data": {"name": "cb"},
      "mark": {"type": "point", "shape": "M-1,-1L1,1M-1,1L1,-1M0,-1L0,1", "filled": false, "strokeWidth": 1.5, "size": 324, "opacity": 1},
      "encoding": {
        "x": {"field": "t", "type": "quantitative", "scale": {"domain": [-10, 40], "nice": false, "zero": false},
              "axis": {"values": [-10,-5,0,5,10,15,20,25,30,35,40], "labelExpr": "toString(datum.value)", "labelFont": "Liberation Serif", "labelPadding": 27, "title": "Tamb [°C]", "titleFont": "Liberation Serif", "titleY": 76, "titleBaseline": "middle", "grid": true, "gridColor": {"condition": {"test": "datum.value == -10 || datum.value == 40", "value": "transparent"}, "value": "#d9d9d9"}}},
        "y": {"field": "v", "type": "quantitative", "scale": {"domain": [0, 20], "nice": false, "zero": false},
              "axis": {"orient": "left", "values": [0,2,4,6,8], "labelFont": "Liberation Serif", "grid": true, "title": "COP", "titleFont": "Liberation Serif", "titleX": -62, "titleY": 461, "titleAngle": 270, "titleAlign": "center", "titleBaseline": "middle"}},
        "color": {"field": "s", "type": "nominal", "scale": {"domain": ["HP","CL"], "range": ["#0A2859","#4A22E8"]},
                  "legend": {"title": null, "orient": "none", "legendX": 18, "legendY": 310, "labelExpr": "datum.label == 'HP' ? 'COPHEATPUMP' : 'COPCOOLING'", "symbolType": "M-1,-1L1,1M-1,1L1,-1M0,-1L0,1", "symbolStrokeWidth": 1.5, "labelFontSize": 21}}
      }
    },
    {
      "data": {"name": "pb"},
      "mark": {"type": "point", "shape": "M-1,0L1,0M0,-1L0,1", "filled": false, "strokeWidth": 1.5, "size": 400, "opacity": 1},
      "encoding": {
        "x": {"field": "t", "type": "quantitative", "scale": {"domain": [-10, 40], "nice": false, "zero": false},
              "axis": {"values": [-10,-5,0,5,10,15,20,25,30,35,40], "labelExpr": "toString(datum.value)", "labelFont": "Liberation Serif", "labelPadding": 27, "title": "Tamb [°C]", "titleFont": "Liberation Serif", "titleY": 76, "titleBaseline": "middle", "grid": true, "gridColor": {"condition": {"test": "datum.value == -10 || datum.value == 40", "value": "transparent"}, "value": "#d9d9d9"}}},
        "y": {"field": "v", "type": "quantitative", "scale": {"domain": [-80, 120], "nice": false, "zero": false},
              "axis": {"orient": "right", "values": [0,20,40,60,80,100,120], "labelFont": "Liberation Serif", "grid": true, "title": "p [bar]", "titleFont": "Liberation Serif", "titleX": 92, "titleY": 136, "titleAngle": 270, "titleAlign": "center", "titleBaseline": "middle"}},
        "color": {"field": "s", "type": "nominal", "scale": {"domain": ["HP","LPR","PDC","MT","LT"], "range": ["#FF0000","#3A16E0","#00B0F0","#7030A0","#CC00CC"]},
                  "legend": {"title": null, "orient": "none", "legendX": 4, "legendY": 3, "direction": "horizontal", "columns": 5, "columnPadding": 1, "padding": 7, "labelExpr": "'p' + datum.label", "symbolType": "M-1,0L1,0M0,-1L0,1", "symbolStrokeWidth": 2, "labelFontSize": 20}}
      }
    }
  ]
}
]
}
